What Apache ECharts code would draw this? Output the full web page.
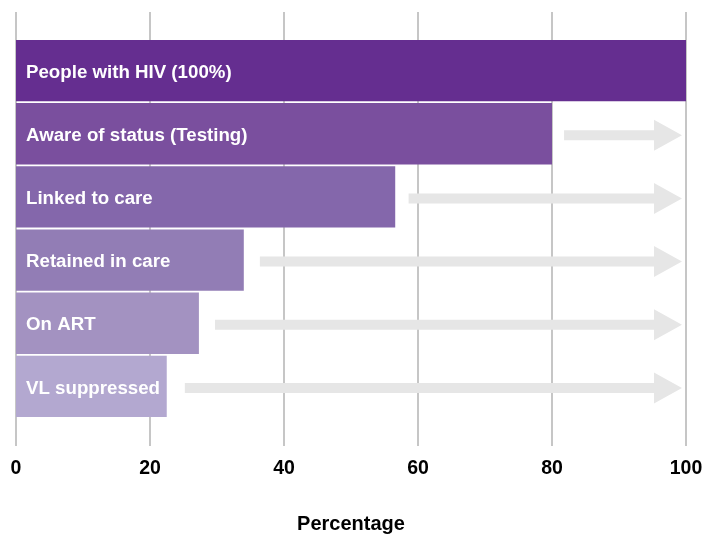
<!DOCTYPE html>
<html>
<head>
<meta charset="utf-8">
<script src="https://cdn.jsdelivr.net/npm/echarts@6/dist/echarts.min.js"></script>
<style>
  html, body { margin: 0; padding: 0; background: #fff; }
  #chart { width: 705px; height: 534px; }
</style>
</head>
<body>
<div id="chart"></div>
<script>
// cascade stages, top to bottom
const stages = [
  "People with HIV (100%)",
  "Aware of status (Testing)",
  "Linked to care",
  "Retained in care",
  "On ART",
  "VL suppressed"
];
const percentValues = [100, 80, 56.6, 34.0, 27.3, 22.5];
const barColors = ["#652e90", "#7a4f9e", "#8467ab", "#927db5", "#a392c1", "#b3a8d0"];
// gray "gap" arrows: start value per stage, all end near 100
const arrowFrom = [null, 81.8, 58.6, 36.4, 29.7, 25.2];
const arrowTo = 99.4;
const xTicks = [0, 20, 40, 60, 80, 100];

let chart = echarts.init(document.getElementById("chart"), null, { renderer: "canvas" });

let arrowData = [];
arrowFrom.forEach((v, i) => {
  if (v != null) arrowData.push([i, v, arrowTo]);
});

let fontFamily = "Liberation Sans, Arial, sans-serif";

let option = {
  animation: false,
  textStyle: { fontFamily },
  grid: [
    // grid for the vertical gridlines + x axis labels
    { left: 16, right: 19, top: 12, bottom: 88, outerBoundsMode: "none" },
    // grid for the bars
    { left: 16, right: 19, top: 39, bottom: 116, outerBoundsMode: "none" }
  ],
  xAxis: [
    {
      gridIndex: 0,
      type: "value",
      min: xTicks[0],
      max: xTicks[xTicks.length - 1],
      interval: 20,
      name: "Percentage",
      nameLocation: "middle",
      nameGap: 68,
      nameTextStyle: { fontSize: 20, fontWeight: "bold", color: "#000", fontFamily },
      axisLine: { show: false },
      axisTick: { show: false },
      axisLabel: { fontSize: 19.5, fontWeight: "bold", color: "#000", margin: 13, fontFamily },
      splitLine: { show: true, lineStyle: { color: "#c6c6c6", width: 2 } }
    },
    {
      gridIndex: 1,
      type: "value",
      min: 0,
      max: 100,
      show: false
    }
  ],
  yAxis: [
    { gridIndex: 0, type: "value", show: false, splitLine: { show: false } },
    {
      gridIndex: 1,
      type: "category",
      inverse: true,
      data: stages,
      show: false
    }
  ],
  series: [
    {
      type: "bar",
      xAxisIndex: 1,
      yAxisIndex: 1,
      barCategoryGap: "3%",
      data: percentValues.map((v, i) => ({
        value: v,
        itemStyle: { color: barColors[i] }
      })),
      label: {
        show: true,
        position: "insideLeft",
        distance: 10,
        offset: [0, 2],
        color: "#fff",
        fontSize: 18.7,
        fontWeight: "bold",
        fontFamily,
        formatter: (p) => stages[p.dataIndex]
      }
    },
    {
      type: "custom",
      xAxisIndex: 1,
      yAxisIndex: 1,
      data: arrowData,
      encode: { x: [1, 2], y: 0 },
      renderItem: function (params, api) {
        let start = api.coord([api.value(1), api.value(0)]);
        let end = api.coord([api.value(2), api.value(0)]);
        let y = start[1] + 1.5;
        let shaft = 5, head = 15.5, headLen = 28;
        let x0 = start[0], x1 = end[0], xh = x1 - headLen;
        return {
          type: "polygon",
          shape: {
            points: [
              [x0, y - shaft], [xh, y - shaft], [xh, y - head], [x1, y],
              [xh, y + head], [xh, y + shaft], [x0, y + shaft]
            ]
          },
          style: { fill: "#e6e6e6" }
        };
      }
    }
  ]
};

chart.setOption(option);
window.addEventListener("resize", () => {
  chart.resize();
});
</script>
</body>
</html>
